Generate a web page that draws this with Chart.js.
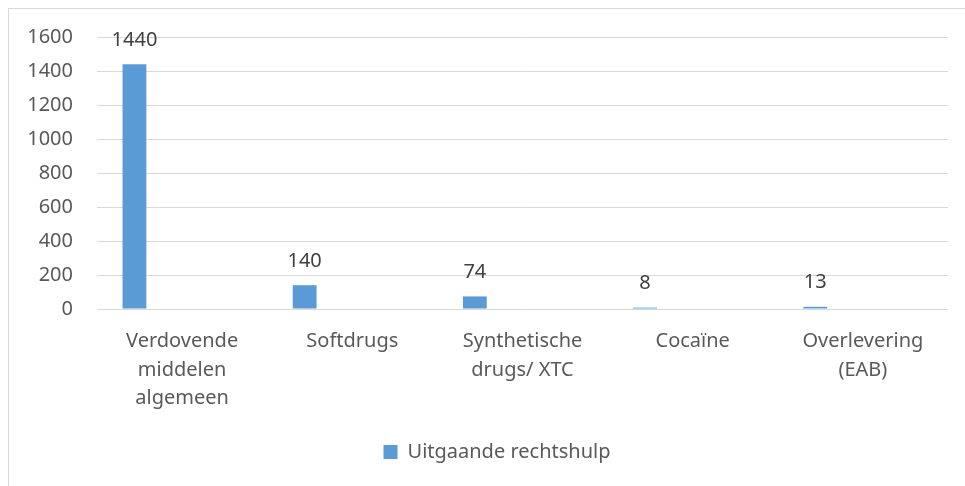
<!DOCTYPE html>
<html>
<head>
<meta charset="utf-8">
<script src="https://cdn.jsdelivr.net/npm/chart.js@4"></script>
<style>
  html, body { margin:0; padding:0; background:#fff; }
  #wrap { position:relative; width:965px; height:486px; overflow:hidden; }
  #frame { position:absolute; left:8px; top:8px; width:1000px; height:1000px; border:1px solid #d9d9d9; box-sizing:border-box; pointer-events:none; }
  canvas { position:absolute; left:0; top:0; }
</style>
</head>
<body>
<div id="wrap">
  <div id="frame"></div>
  <canvas id="chart" width="965" height="486"></canvas>
</div>
<script>
// categories (multi-line as in the original axis)
const categories = [
  ['Verdovende', 'middelen', 'algemeen'],
  ['Softdrugs'],
  ['Synthetische', 'drugs/ XTC'],
  ['Cocaïne'],
  ['Overlevering', '(EAB)']
];
const seriesName = 'Uitgaande rechtshulp';
const seriesValues = [1440, 140, 74, 8, 13];
// the source chart keeps room for four more (empty) series per category
const emptySeries = [null, null, null, null, null];
const yTicks = [0, 200, 400, 600, 800, 1000, 1200, 1400, 1600];

const BLUE = '#5b9bd5';
const GRID = '#d9d9d9';
const TEXT = '#595959';
const FONT = '"Noto Sans", "Open Sans", sans-serif';

// value labels above the bars
const valueLabels = {
  id: 'valueLabels',
  afterDatasetsDraw(chart){
    const ctx = chart.ctx;
    const meta = chart.getDatasetMeta(0);
    ctx.save();
    ctx.font = '20px ' + FONT;
    ctx.fillStyle = '#404040';
    ctx.textAlign = 'center';
    ctx.textBaseline = 'middle';
    meta.data.forEach((bar, i) => {
      ctx.fillText(String(seriesValues[i]), bar.x, bar.y - 24);
    });
    ctx.restore();
  }
};

// legend sits a bit right of the canvas centre in the original
const legendShift = {
  id: 'legendShift',
  afterLayout(chart){
    chart.legend.left += 13;
    chart.legend.right += 13;
  }
};

const datasets = [{
  label: seriesName,
  data: seriesValues,
  backgroundColor: BLUE
}];
for (let k = 0; k < 4; k++) datasets.push({ label: '', data: emptySeries, backgroundColor: BLUE });

new Chart(document.getElementById('chart'), {
  type: 'bar',
  data: { labels: categories, datasets },
  options: {
    responsive: false,
    animation: false,
    layout: { padding: { left: 20, right: 17, top: 37, bottom: 14 } },
    datasets: { bar: { categoryPercentage: 0.7, barPercentage: 1 } },
    plugins: {
      legend: {
        position: 'bottom',
        labels: {
          boxWidth: 14, boxHeight: 14, padding: 10,
          color: TEXT,
          font: { family: FONT, size: 20 },
          filter: item => item.text !== ''
        }
      },
      tooltip: { enabled: false }
    },
    scales: {
      x: {
        grid: { display: false },
        border: { display: false },
        ticks: {
          color: TEXT, padding: 10, maxRotation: 0, autoSkip: false,
          font: { family: FONT, size: 20, lineHeight: 1.43 }
        },
        afterFit: s => { s.height = 123; }
      },
      y: {
        min: 0, max: 1600,
        afterBuildTicks: s => { s.ticks = yTicks.map(v => ({ value: v })); },
        grid: { color: GRID, lineWidth: 1, drawTicks: false },
        border: { display: false },
        ticks: { color: TEXT, padding: 24, font: { family: FONT, size: 20 }, callback: v => String(v) },
        afterFit: s => { s.width = 77; }
      }
    }
  },
  plugins: [valueLabels, legendShift]
});
</script>
</body>
</html>
